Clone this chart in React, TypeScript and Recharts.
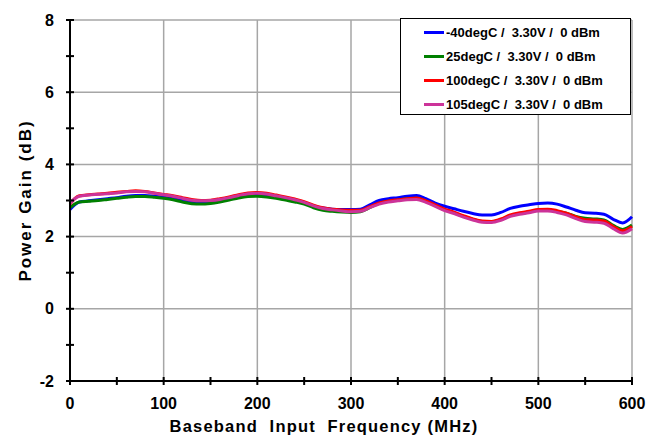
import React from 'react';
import { LineChart, Line, XAxis, YAxis, CartesianGrid, Legend } from 'recharts';

const freqs = [0, 5, 10, 20, 30, 40, 50, 60, 70, 80, 90, 100, 110, 120, 130, 140, 150, 160, 170, 180, 190, 200, 210, 220, 230, 240, 250, 260, 270, 280, 290, 300, 310, 320, 330, 340, 350, 360, 370, 380, 390, 400, 410, 420, 430, 440, 450, 460, 470, 480, 490, 500, 510, 520, 530, 540, 550, 560, 570, 580, 590, 600];

const gainM40 = [2.75, 2.88, 2.96, 2.99, 3.02, 3.05, 3.08, 3.12, 3.14, 3.14, 3.12, 3.09, 3.05, 3.0, 2.96, 2.95, 2.96, 3.0, 3.05, 3.11, 3.16, 3.17, 3.15, 3.1, 3.05, 3.0, 2.94, 2.85, 2.79, 2.76, 2.75, 2.75, 2.76, 2.88, 3.0, 3.05, 3.08, 3.12, 3.14, 3.05, 2.93, 2.84, 2.77, 2.7, 2.64, 2.6, 2.6, 2.67, 2.78, 2.84, 2.88, 2.92, 2.93, 2.9, 2.82, 2.73, 2.66, 2.65, 2.62, 2.48, 2.38, 2.55];

const gain25 = [2.8, 2.9, 2.96, 2.98, 3.0, 3.03, 3.06, 3.09, 3.11, 3.11, 3.09, 3.06, 3.02, 2.96, 2.91, 2.9, 2.92, 2.96, 3.01, 3.07, 3.11, 3.12, 3.1, 3.06, 3.01, 2.96, 2.9, 2.8, 2.73, 2.7, 2.68, 2.67, 2.69, 2.8, 2.92, 2.98, 3.01, 3.05, 3.06, 2.98, 2.86, 2.74, 2.66, 2.56, 2.48, 2.42, 2.41, 2.47, 2.58, 2.64, 2.68, 2.73, 2.74, 2.7, 2.65, 2.56, 2.51, 2.49, 2.46, 2.31, 2.2, 2.32];

const gain100 = [2.9, 3.05, 3.13, 3.16, 3.18, 3.2, 3.23, 3.25, 3.27, 3.25, 3.21, 3.17, 3.13, 3.08, 3.03, 3.0, 3.01, 3.05, 3.1, 3.16, 3.21, 3.22, 3.2, 3.15, 3.1, 3.04, 2.97, 2.87, 2.8, 2.76, 2.74, 2.73, 2.73, 2.83, 2.93, 2.99, 3.02, 3.05, 3.07, 2.99, 2.88, 2.76, 2.68, 2.58, 2.49, 2.43, 2.42, 2.49, 2.6, 2.66, 2.7, 2.75, 2.76, 2.72, 2.65, 2.55, 2.47, 2.46, 2.43, 2.28, 2.16, 2.28];

const gain105 = [2.92, 3.05, 3.12, 3.15, 3.17, 3.19, 3.21, 3.24, 3.25, 3.24, 3.2, 3.16, 3.12, 3.06, 3.01, 2.99, 3.0, 3.03, 3.08, 3.14, 3.19, 3.2, 3.18, 3.13, 3.08, 3.02, 2.95, 2.85, 2.78, 2.74, 2.71, 2.69, 2.7, 2.8, 2.9, 2.96, 2.99, 3.02, 3.03, 2.95, 2.84, 2.72, 2.64, 2.54, 2.46, 2.4, 2.39, 2.45, 2.56, 2.62, 2.66, 2.71, 2.71, 2.67, 2.6, 2.5, 2.42, 2.4, 2.37, 2.22, 2.1, 2.22];

const xTicks = [0, 50, 100, 150, 200, 250, 300, 350, 400, 450, 500, 550, 600];
const xGrid = [0, 100, 200, 300, 400, 500, 600];
const yTicks = [-2, -1, 0, 1, 2, 3, 4, 5, 6, 7, 8];
const yGrid = [-2, 0, 2, 4, 6, 8];

const seriesKeys = ['s0', 's1', 's2', 's3'];
const seriesNames = [
  '-40degC /  3.30V /  0 dBm',
  '25degC /  3.30V /  0 dBm',
  '100degC /  3.30V /  0 dBm',
  '105degC /  3.30V /  0 dBm',
];
const seriesColors = ['#0000ff', '#008000', '#ff0000', '#cc3399'];

const data = freqs.map((f, i) => ({
  f,
  s0: gainM40[i],
  s1: gain25[i],
  s2: gain100[i],
  s3: gain105[i],
}));

const FONT = '"Liberation Sans", Arial, sans-serif';

const XTick = (props: any) => {
  const { x, y, payload } = props;
  const v = payload.value;
  return (
    <g>
      <line x1={x} x2={x} y1={y - 4} y2={y + 4} stroke="#000" strokeWidth={2} />
      {v % 100 === 0 && (
        <text x={x} y={y + 22} textAnchor="middle" dominantBaseline="central" fontFamily={FONT} fontWeight="bold" fontSize={16} fill="#000">
          {v}
        </text>
      )}
    </g>
  );
};

const YTick = (props: any) => {
  const { x, y, payload } = props;
  const v = payload.value;
  return (
    <g>
      <line x1={x - 4} x2={x + 4} y1={y} y2={y} stroke="#000" strokeWidth={2} />
      {v % 2 === 0 && (
        <text x={x - 16} y={y} textAnchor="end" dominantBaseline="central" fontFamily={FONT} fontWeight="bold" fontSize={16} fill="#000">
          {v}
        </text>
      )}
    </g>
  );
};

const XTitle = (props: any) => {
  const vb = props.viewBox || {};
  return (
    <text x={324} y={vb.y + 45} textAnchor="middle" dominantBaseline="central" fontFamily={FONT} fontWeight="bold" fontSize={16.5} letterSpacing={1.2} style={{ whiteSpace: 'pre' }} fill="#000">
      {'Baseband  Input  Frequency (MHz)'}
    </text>
  );
};

const YTitle = (props: any) => {
  const vb = props.viewBox || {};
  const cy = vb.y + vb.height / 2;
  return (
    <text x={25} y={cy} transform={`rotate(-90, 25, ${cy})`} textAnchor="middle" dominantBaseline="central" fontFamily={FONT} fontWeight="bold" fontSize={17} letterSpacing={2} style={{ whiteSpace: 'pre' }} fill="#000">
      {'Power Gain (dB)'}
    </text>
  );
};

const LegendBox = () => (
  <div style={{ border: '1.5px solid #000', background: '#fff', width: 229, height: 94, boxSizing: 'content-box', paddingTop: 1 }}>
    {seriesNames.map((name, i) => (
      <div key={i} style={{ height: 24, display: 'flex', alignItems: 'center', fontFamily: FONT, fontWeight: 'bold', fontSize: 13, whiteSpace: 'pre', color: '#000' }}>
        <span style={{ display: 'inline-block', width: 20, height: 3, background: seriesColors[i], marginLeft: 23, marginRight: 2 }} />
        <span>{name}</span>
      </div>
    ))}
  </div>
);

export default function App() {
  return (
    <div style={{ position: 'absolute', left: 0, top: 0, width: 649, height: 440, background: '#fff' }}>
      <LineChart width={649} height={440} data={data} margin={{ top: 20, right: 17, bottom: 0, left: 0 }}>
        <CartesianGrid horizontalValues={yGrid} verticalValues={xGrid} stroke="#a6a6a6" strokeWidth={1.5} />
        <XAxis
          dataKey="f"
          type="number"
          domain={[0, 600]}
          ticks={xTicks}
          interval={0}
          height={59}
          tickSize={0}
          tickMargin={0}
          axisLine={{ stroke: '#000', strokeWidth: 2 }}
          tickLine={false}
          tick={<XTick />}
          label={<XTitle />}
        />
        <YAxis
          type="number"
          domain={[-2, 8]}
          ticks={yTicks}
          interval={0}
          width={70}
          tickSize={0}
          tickMargin={0}
          axisLine={{ stroke: '#000', strokeWidth: 2 }}
          tickLine={false}
          tick={<YTick />}
          label={<YTitle />}
        />
        <Legend
          layout="vertical"
          align="center"
          verticalAlign="middle"
          content={<LegendBox />}
          wrapperStyle={{ left: 400, top: 18, width: 233, height: 98 }}
        />
        {seriesKeys.map((k, i) => (
          <Line
            key={k}
            dataKey={k}
            name={seriesNames[i]}
            stroke={seriesColors[i]}
            strokeWidth={3}
            dot={false}
            activeDot={false}
            type="monotone"
            isAnimationActive={false}
          />
        ))}
      </LineChart>
    </div>
  );
}
